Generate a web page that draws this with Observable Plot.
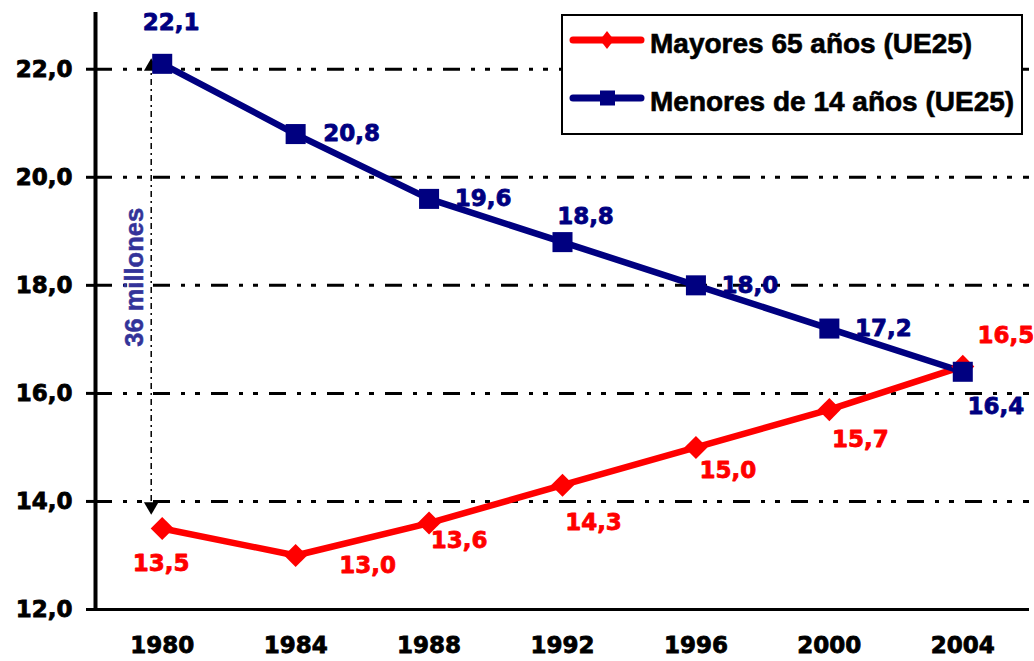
<!DOCTYPE html>
<html><head><meta charset="utf-8">
<script src="https://cdn.jsdelivr.net/npm/d3@7"></script>
<script src="https://cdn.jsdelivr.net/npm/@observablehq/plot@0.6"></script>
<style>
body{margin:0;background:#fff;}
#wrap{position:relative;width:1034px;height:661px;overflow:hidden;}
#legend{position:absolute;left:561px;top:14px;}
#chart g[aria-label="x-axis tick label"], #chart g[aria-label="y-axis tick label"]{stroke:#000;stroke-width:0.8px;}
</style></head><body><div id="wrap"><div id="chart"></div><div id="legend"></div></div>
<script>
const years = [1980, 1984, 1988, 1992, 1996, 2000, 2004];
const mayores = [13.5, 13.0, 13.6, 14.3, 15.0, 15.7, 16.5];
const menores = [22.1, 20.8, 19.6, 18.8, 18.0, 17.2, 16.4];
const yTicks = [12, 14, 16, 18, 20, 22];
const seriesNames = ["Mayores 65 años (UE25)", "Menores de 14 años (UE25)"];
const annotation = "36 millones";
const mayoresLabelOffsets = [[-1, 35], [72, 10], [30, 18], [31, 37], [32, 23], [31, 30], [43, -31]];
const menoresLabelOffsets = [[9, -41], [56, 0], [54, 0], [23, -25], [54, 0], [54, 0], [33, 35]];

const RED = "#ff0000", NAVY = "#000080", ANN = "#333399";
const fmt = v => v.toFixed(1).replace(".", ",");

const rowsMay = years.map((yr, i) => ({year: yr, value: mayores[i], off: mayoresLabelOffsets[i]}));
const rowsMen = years.map((yr, i) => ({year: yr, value: menores[i], off: menoresLabelOffsets[i]}));

const labelMarks = (rows, color) => rows.map(d => Plot.text([d], {
  x: "year", y: "value", text: r => fmt(r.value), dx: d.off[0], dy: d.off[1],
  fill: color, stroke: color, strokeWidth: 0.8, fontSize: 23, fontWeight: "bold", textAnchor: "middle", lineAnchor: "middle"
}));

const chart = Plot.plot({
  width: 1034, height: 661,
  marginLeft: 95, marginRight: 5, marginTop: 12, marginBottom: 52,
  style: {fontFamily: "'DejaVu Sans', Verdana, sans-serif", fontSize: "23px", fontWeight: "bold", color: "#000", background: "#fff", overflow: "visible"},
  x: {domain: [1978, 2006], axis: null},
  y: {domain: [12, 23.05], axis: null},
  marks: [
    Plot.gridY(yTicks.filter(t => t > 12), {stroke: "#000", strokeOpacity: 1, strokeWidth: 3, strokeDasharray: "17,11,4,10,5,11"}),
    // 36 millones arrow
    Plot.ruleX([years[0]], {y1: 14, y2: 22, dx: -11, stroke: "#000", strokeWidth: 1.5, strokeDasharray: "6,4,2,4"}),
    Plot.dot([{x: years[0], y: 22}], {x: "x", y: "y", dx: -11, dy: -2.6, symbol: "triangle", r: 5.4, fill: "#000"}),
    Plot.dot([{x: years[0], y: 14}], {x: "x", y: "y", dx: -11, dy: 5, symbol: "triangle", r: 5.4, fill: "#000", rotate: 180}),
    Plot.text([{x: years[0], y: 18}], {x: "x", y: "y", text: () => annotation, dx: -27.5, dy: -8, rotate: -90, fill: ANN, stroke: ANN, strokeWidth: 0.5, fontSize: 25.5, fontWeight: "bold", fontFamily: "'Liberation Sans', Arial, sans-serif"}),
    // lines
    Plot.line(rowsMay, {x: "year", y: "value", stroke: RED, strokeWidth: 6.5}),
    Plot.line(rowsMen, {x: "year", y: "value", stroke: NAVY, strokeWidth: 6.5}),
    Plot.dot(rowsMay, {x: "year", y: "value", symbol: "square", rotate: 45, r: 9.2, fill: RED}),
    Plot.dot(rowsMen, {x: "year", y: "value", symbol: "square", r: 11.3, fill: NAVY}),
    ...labelMarks(rowsMay, RED),
    ...labelMarks(rowsMen, NAVY),
    // axes
    Plot.axisY({ticks: yTicks, tickSize: 9, tickPadding: 14, strokeWidth: 3, tickFormat: fmt, fontSize: 23, fontWeight: "bold"}),
    Plot.axisX({ticks: years, tickSize: 0, tickPadding: 27, tickFormat: d => String(d), fontSize: 23, fontWeight: "bold"}),
    Plot.ruleX([1978], {y1: 12, y2: 23.05, stroke: "#000", strokeWidth: 4}),
    Plot.ruleY([12], {x1: 1978, x2: 2006, stroke: "#000", strokeWidth: 3})
  ]
});
document.getElementById("chart").appendChild(chart);

// Legend
const W = 462, H = 121;
const lg = d3.select("#legend").append("svg").attr("width", W).attr("height", H)
  .style("font-family", "'Liberation Sans', Arial, sans-serif").style("font-weight", "bold");
lg.append("rect").attr("x", 1).attr("y", 1).attr("width", W - 2).attr("height", H - 2)
  .attr("fill", "#fff").attr("stroke", "#000").attr("stroke-width", 2);
const items = [
  {name: seriesNames[0], color: RED, sym: "diamond", y: 26},
  {name: seriesNames[1], color: NAVY, sym: "square", y: 84}
];
items.forEach(it => {
  lg.append("line").attr("x1", 12).attr("x2", 80).attr("y1", it.y).attr("y2", it.y)
    .attr("stroke", it.color).attr("stroke-width", 7).attr("stroke-linecap", "round");
  if (it.sym === "diamond") {
    lg.append("path").attr("d", `M46,${it.y - 9}L53,${it.y}L46,${it.y + 9}L39,${it.y}Z`).attr("fill", it.color);
  } else {
    lg.append("rect").attr("x", 39).attr("y", it.y - 7.5).attr("width", 15).attr("height", 15).attr("fill", it.color);
  }
  lg.append("text").attr("x", 89).attr("y", it.y + 13).attr("font-size", 28).attr("fill", "#000")
    .attr("stroke", "#000").attr("stroke-width", 0.6).text(it.name);
});
</script></body></html>
